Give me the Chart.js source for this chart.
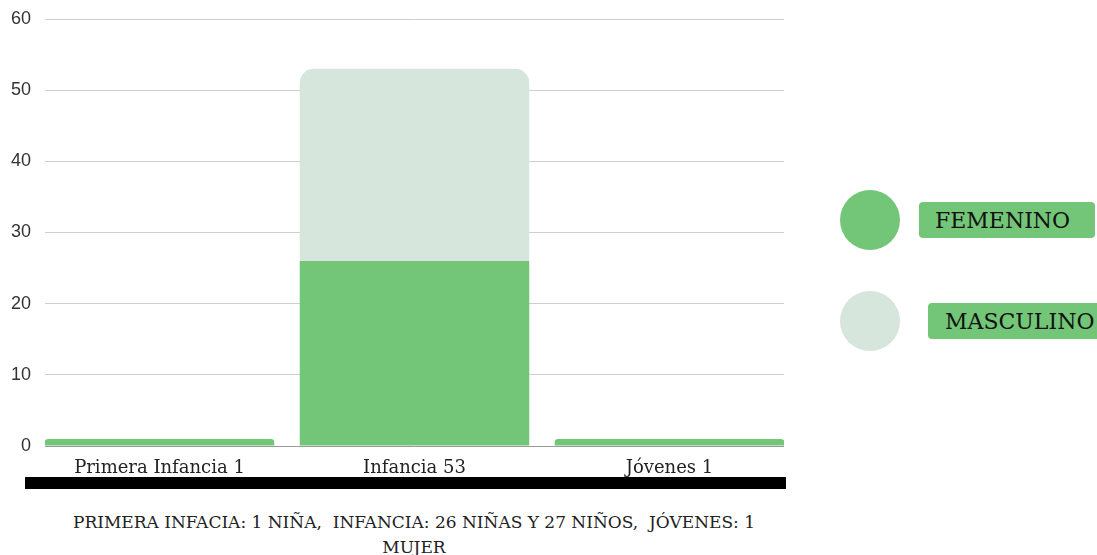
<!DOCTYPE html>
<html><head><meta charset="utf-8">
<script src="https://cdn.jsdelivr.net/npm/chart.js@4/dist/chart.umd.min.js"></script>
<style>
html,body{margin:0;padding:0;background:#fff;width:1097px;height:555px;overflow:hidden;position:relative;font-family:'DejaVu Serif',serif;}
#wrap{position:absolute;left:0;top:0;width:800px;height:480px;}
#bar{position:absolute;left:25px;top:477px;width:761px;height:12px;background:#000;}
#caption{position:absolute;left:44px;top:510px;width:740px;text-align:center;font-size:17px;line-height:25px;color:#222;white-space:pre-wrap;}
.dot{position:absolute;width:60px;height:60px;border-radius:50%;}
.lab{position:absolute;height:36px;border-radius:4px;color:#111;font-size:22px;line-height:37px;white-space:nowrap;box-sizing:border-box;}
</style></head>
<body>
<div id="wrap"><canvas id="c"></canvas></div>
<div id="bar"></div>
<div id="caption"></div>
<div id="legend"></div>
<script>
const categories = ['Primera Infancia 1', 'Infancia 53', 'Jóvenes 1'];
const seriesNames = ['FEMENINO', 'MASCULINO'];
const femenino = [1, 26, 1];
const masculino = [0, 27, 0];
const yTicks = [0, 10, 20, 30, 40, 50, 60];
const captionText = 'PRIMERA INFACIA: 1 NIÑA,  INFANCIA: 26 NIÑAS Y 27 NIÑOS,  JÓVENES: 1 MUJER';

const seriesColors = ['#73c677', '#d6e6dd'];
const legendLayout = [
  {dotX: 840, dotY: 190, boxX: 919, boxY: 202, boxW: 176, padL: 16},
  {dotX: 840, dotY: 291, boxX: 928, boxY: 303, boxW: 175, padL: 17}
];

document.getElementById('caption').textContent = captionText;

const legend = document.getElementById('legend');
seriesNames.forEach((name, i) => {
  const L = legendLayout[i];
  const d = document.createElement('div');
  d.className = 'dot';
  d.style.left = L.dotX + 'px'; d.style.top = L.dotY + 'px';
  d.style.background = seriesColors[i];
  legend.appendChild(d);
  const b = document.createElement('div');
  b.className = 'lab';
  b.style.left = L.boxX + 'px'; b.style.top = L.boxY + 'px';
  b.style.width = L.boxW + 'px'; b.style.paddingLeft = L.padL + 'px';
  b.style.background = seriesColors[0];
  b.textContent = name;
  legend.appendChild(b);
});

const R = 14;
new Chart(document.getElementById('c'), {
  type: 'bar',
  data: {
    datasets: [
      {
        label: seriesNames[0],
        data: femenino.map((v, i) => ({x: i, y: v})),
        backgroundColor: seriesColors[0],
        borderWidth: 0,
        borderRadius: ctx => masculino[ctx.dataIndex] > 0 ? 0 : {topLeft: R, topRight: R, bottomLeft: 0, bottomRight: 0}
      },
      {
        label: seriesNames[1],
        data: masculino.map((v, i) => ({x: i, y: v})),
        backgroundColor: seriesColors[1],
        borderWidth: 0,
        borderRadius: {topLeft: R, topRight: R, bottomLeft: 0, bottomRight: 0}
      }
    ]
  },
  options: {
    responsive: true,
    maintainAspectRatio: false,
    animation: false,
    categoryPercentage: 1,
    barPercentage: 0.9,
    layout: {padding: {top: 19, right: 16, left: 0, bottom: 0}},
    plugins: {legend: {display: false}, tooltip: {enabled: false}},
    scales: {
      x: {
        type: 'linear',
        stacked: true,
        offset: false,
        min: -0.449,
        max: 2.449,
        grid: {display: false},
        border: {display: false},
        afterFit: s => { s.height = 34; },
        ticks: {
          stepSize: 1,
          includeBounds: false,
          autoSkip: false,
          maxRotation: 0,
          padding: 4,
          color: '#222',
          font: {family: 'DejaVu Serif', size: 18},
          callback: v => Number.isInteger(v) && categories[v] !== undefined ? categories[v] : ''
        }
      },
      y: {
        stacked: true,
        min: yTicks[0],
        max: yTicks[yTicks.length - 1],
        afterFit: s => { s.width = 45; },
        afterBuildTicks: s => { s.ticks = yTicks.map(v => ({value: v})); },
        grid: {
          drawTicks: true,
          tickLength: 9,
          tickColor: 'rgba(0,0,0,0)',
          color: ctx => ctx.tick && ctx.tick.value === 0 ? '#9a9a9a' : '#cfcfcf',
          lineWidth: 1
        },
        border: {display: false},
        ticks: {
          padding: 5,
          color: '#333',
          font: {family: 'Liberation Sans', size: 18}
        }
      }
    }
  }
});
</script>
</body></html>
